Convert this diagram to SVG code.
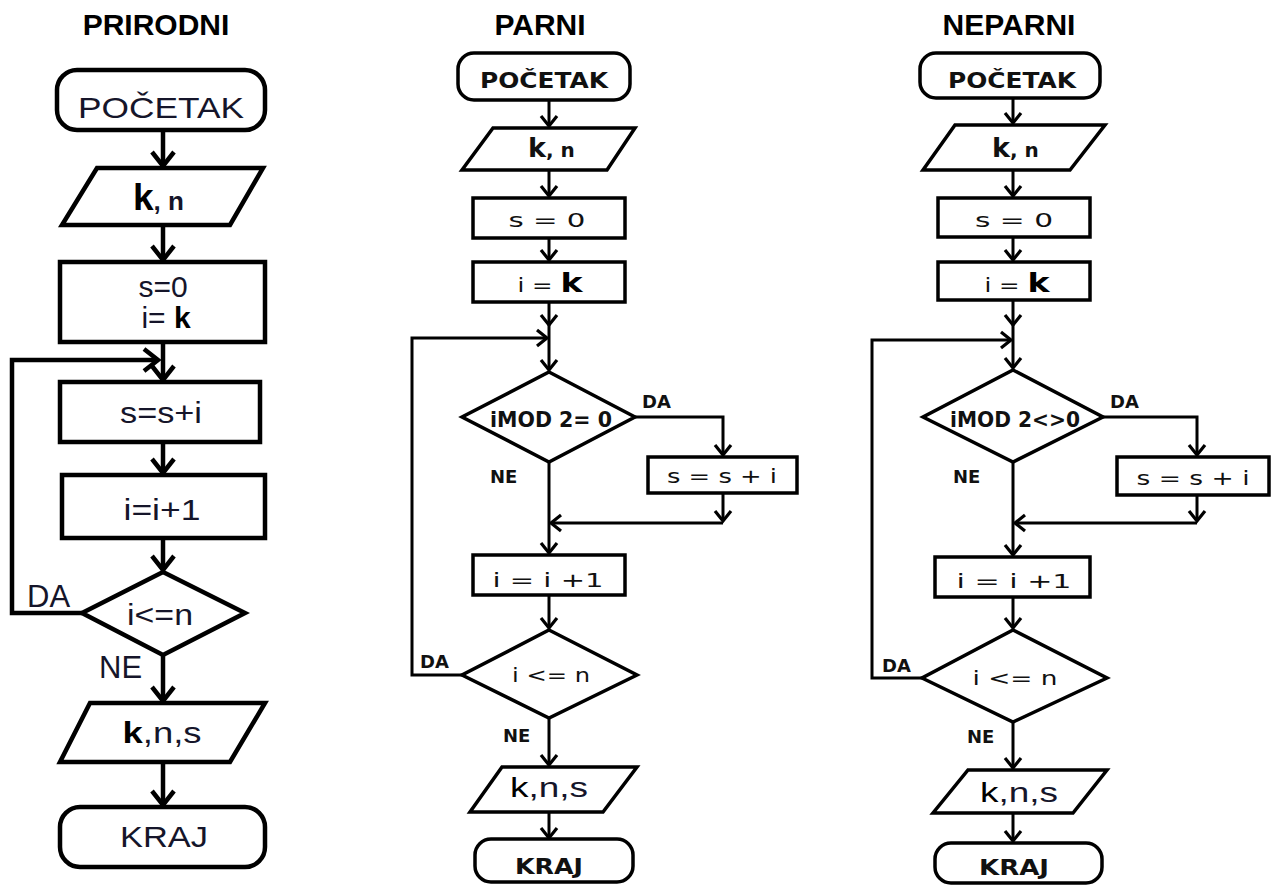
<svg xmlns="http://www.w3.org/2000/svg" width="1272" height="885" viewBox="0 0 1272 885">
<style>
.bg{fill:#fff}
.title{font-family:"Liberation Sans",Arial,sans-serif;font-weight:bold;font-size:30px;fill:#000;text-anchor:middle}
.nL{fill:#fff;stroke:#000;stroke-width:4.5}
.nS{fill:#fff;stroke:#000;stroke-width:3.5}
.cL{fill:none;stroke:#000;stroke-width:4.5}
.cS{fill:none;stroke:#000;stroke-width:3}
.tL{font-family:"Liberation Sans",Arial,sans-serif;font-size:30px;fill:#15152a;text-anchor:middle}
.lL{font-family:"Liberation Sans",Arial,sans-serif;font-size:31px;fill:#15152a}
.tS{font-family:"DejaVu Sans",sans-serif;font-size:20px;fill:#111;text-anchor:middle}
.tB{font-family:"DejaVu Sans",sans-serif;font-weight:bold;font-size:21px;fill:#111;text-anchor:middle}
.lS{font-family:"DejaVu Sans",sans-serif;font-weight:bold;font-size:18px;fill:#111}
.tA{font-family:"Liberation Sans",Arial,sans-serif;font-size:28px;fill:#15152a;text-anchor:middle}
.b{font-weight:bold;fill:#000}
</style>
<defs>
<marker id="aL" viewBox="-17 -14 20 28" markerWidth="20" markerHeight="28" refX="0" refY="0" orient="auto" markerUnits="userSpaceOnUse">
<path d="M-14,-11 L0,0 L-14,11" fill="none" stroke="#000" stroke-width="4.5"/>
</marker>
<marker id="aS" viewBox="-13 -11 16 22" markerWidth="16" markerHeight="22" refX="0" refY="0" orient="auto" markerUnits="userSpaceOnUse">
<path d="M-10,-8 L0,0 L-10,8" fill="none" stroke="#000" stroke-width="3.2"/>
</marker>
</defs>
<rect class="bg" x="0" y="0" width="1272" height="885"/>

<text class="title" x="156" y="35">PRIRODNI</text>
<text class="title" x="540" y="35">PARNI</text>
<text class="title" x="1009" y="35">NEPARNI</text>

<g id="connectors">
<!-- left -->
<path class="cL" d="M163,130 V166" marker-end="url(#aL)"/>
<path class="cL" d="M163,225 V260" marker-end="url(#aL)"/>
<path class="cL" d="M163,342 V380" marker-end="url(#aL)"/>
<path class="cL" d="M82,613 H12 V360 H158" marker-end="url(#aL)"/>
<path class="cL" d="M163,442 V473" marker-end="url(#aL)"/>
<path class="cL" d="M163,538 V570" marker-end="url(#aL)"/>
<path class="cL" d="M163,655 V701" marker-end="url(#aL)"/>
<path class="cL" d="M163,762 V805" marker-end="url(#aL)"/>
<!-- middle -->
<path class="cS" d="M549,100 V126" marker-end="url(#aS)"/>
<path class="cS" d="M549,170 V196" marker-end="url(#aS)"/>
<path class="cS" d="M549,238 V260" marker-end="url(#aS)"/>
<path class="cS" d="M549,302 V325" marker-end="url(#aS)"/>
<path class="cS" d="M549,325 V370" marker-end="url(#aS)"/>
<path class="cS" d="M462,675 H412 V338 H547" marker-end="url(#aS)"/>
<path class="cS" d="M635,417 H723 V455" marker-end="url(#aS)"/>
<path class="cS" d="M723,493 V521" marker-end="url(#aS)"/>
<path class="cS" d="M723,523 H551" marker-end="url(#aS)"/>
<path class="cS" d="M549,462 V553" marker-end="url(#aS)"/>
<path class="cS" d="M549,595 V628" marker-end="url(#aS)"/>
<path class="cS" d="M549,718 V765" marker-end="url(#aS)"/>
<path class="cS" d="M549,812 V838" marker-end="url(#aS)"/>
<!-- right -->
<path class="cS" d="M1013,98 V123" marker-end="url(#aS)"/>
<path class="cS" d="M1013,170 V196" marker-end="url(#aS)"/>
<path class="cS" d="M1013,237 V260" marker-end="url(#aS)"/>
<path class="cS" d="M1013,300 V325" marker-end="url(#aS)"/>
<path class="cS" d="M1013,325 V368" marker-end="url(#aS)"/>
<path class="cS" d="M922,678 H872 V340 H1011" marker-end="url(#aS)"/>
<path class="cS" d="M1103,417 H1197 V455" marker-end="url(#aS)"/>
<path class="cS" d="M1197,495 V521" marker-end="url(#aS)"/>
<path class="cS" d="M1197,523 H1015" marker-end="url(#aS)"/>
<path class="cS" d="M1013,462 V555" marker-end="url(#aS)"/>
<path class="cS" d="M1013,597 V628" marker-end="url(#aS)"/>
<path class="cS" d="M1013,722 V768" marker-end="url(#aS)"/>
<path class="cS" d="M1013,813 V841" marker-end="url(#aS)"/>
</g>

<!-- LEFT: PRIRODNI -->
<g id="p-start">
<rect class="nL" x="57" y="70" width="208" height="60" rx="20"/>
<text class="tL" x="161" y="118" font-size="34" textLength="166" lengthAdjust="spacingAndGlyphs">POČETAK</text>
</g>
<g id="p-input">
<polygon class="nL" points="97,168 263,168 230,225 62,225"/>
<text class="tL" x="133" y="210" style="text-anchor:start"><tspan class="b" font-size="37">k</tspan><tspan font-size="26" font-weight="bold">, n</tspan></text>
</g>
<g id="p-init">
<rect class="nL" x="60" y="262" width="205" height="80"/>
<text class="tL" x="163" y="297" font-size="29">s=0</text>
<text class="tL" x="166" y="328" font-size="29">i= <tspan class="b">k</tspan></text>
</g>
<g id="p-sum">
<rect class="nL" x="60" y="382" width="200" height="60"/>
<text class="tL" x="161" y="423" textLength="82" lengthAdjust="spacingAndGlyphs">s=s+i</text>
</g>
<g id="p-inc">
<rect class="nL" x="62" y="475" width="203" height="63"/>
<text class="tL" x="162" y="520" textLength="77" lengthAdjust="spacingAndGlyphs">i=i+1</text>
</g>
<g id="p-cond">
<polygon class="nL" points="163,572 245,613 163,655 82,613"/>
<text class="tL" x="160" y="625" textLength="66" lengthAdjust="spacingAndGlyphs">i&lt;=n</text>
</g>
<text class="lL" x="27" y="607">DA</text>
<text class="lL" x="99" y="678">NE</text>
<g id="p-output">
<polygon class="nL" points="90,703 265,703 230,762 60,762"/>
<text class="tL" x="162" y="743" textLength="79" lengthAdjust="spacingAndGlyphs"><tspan class="b">k</tspan>,n,s</text>
</g>
<g id="p-end">
<rect class="nL" x="60" y="807" width="205" height="60" rx="20"/>
<text class="tL" x="164" y="847" font-size="34" textLength="88" lengthAdjust="spacingAndGlyphs">KRAJ</text>
</g>

<!-- MIDDLE: PARNI -->
<g id="e-start">
<rect class="nS" x="458" y="53" width="172" height="47" rx="16"/>
<text class="tB" x="544" y="88" textLength="128" lengthAdjust="spacingAndGlyphs">POČETAK</text>
</g>
<g id="e-input">
<polygon class="nS" points="493,128 635,128 607,170 462,170"/>
<text class="tB" x="528" y="157" style="text-anchor:start"><tspan font-size="27">k</tspan><tspan font-size="20">, n</tspan></text>
</g>
<g id="e-s0">
<rect class="nS" x="473" y="198" width="152" height="40"/>
<text class="tS" x="547" y="227" textLength="77" lengthAdjust="spacingAndGlyphs">s = 0</text>
</g>
<g id="e-ik">
<rect class="nS" x="473" y="262" width="152" height="40"/>
<text class="tS" x="550" y="292" font-size="22" textLength="65" lengthAdjust="spacingAndGlyphs">i = <tspan class="b" font-size="27">k</tspan></text>
</g>
<g id="e-cond">
<polygon class="nS" points="549,372 635,417 549,462 462,417"/>
<text class="tB" x="551" y="427" font-size="19" textLength="122" lengthAdjust="spacingAndGlyphs">iMOD 2= 0</text>
</g>
<text class="lS" x="642" y="408">DA</text>
<text class="lS" x="490" y="483" font-weight="normal">NE</text>
<g id="e-sum">
<rect class="nS" x="648" y="457" width="149" height="36"/>
<text class="tS" x="722" y="483" textLength="110" lengthAdjust="spacingAndGlyphs">s = s + i</text>
</g>
<g id="e-inc">
<rect class="nS" x="473" y="555" width="152" height="40"/>
<text class="tS" x="548" y="587" font-size="22" textLength="111" lengthAdjust="spacingAndGlyphs">i =  i +1</text>
</g>
<g id="e-cond2">
<polygon class="nS" points="549,630 637,675 549,718 462,675"/>
<text class="tS" x="551" y="682" font-size="22" textLength="78" lengthAdjust="spacingAndGlyphs">i &lt;= n</text>
</g>
<text class="lS" x="420" y="668">DA</text>
<text class="lS" x="503" y="742" font-weight="normal">NE</text>
<g id="e-output">
<polygon class="nS" points="502,767 637,767 603,812 470,812"/>
<text class="tA" x="549" y="797" textLength="78" lengthAdjust="spacingAndGlyphs"><tspan fill="#000">k</tspan>,n,s</text>
</g>
<g id="e-end">
<rect class="nS" x="475" y="839" width="158" height="43" rx="16"/>
<text class="tB" x="549" y="874" textLength="68" lengthAdjust="spacingAndGlyphs">KRAJ</text>
</g>

<!-- RIGHT: NEPARNI -->
<g id="o-start">
<rect class="nS" x="920" y="53" width="180" height="45" rx="16"/>
<text class="tB" x="1012" y="88" textLength="128" lengthAdjust="spacingAndGlyphs">POČETAK</text>
</g>
<g id="o-input">
<polygon class="nS" points="955,125 1105,125 1070,170 923,170"/>
<text class="tB" x="992" y="157" style="text-anchor:start"><tspan font-size="27">k</tspan><tspan font-size="20">, n</tspan></text>
</g>
<g id="o-s0">
<rect class="nS" x="938" y="198" width="152" height="39"/>
<text class="tS" x="1014" y="227" textLength="78" lengthAdjust="spacingAndGlyphs">s = 0</text>
</g>
<g id="o-ik">
<rect class="nS" x="938" y="262" width="152" height="38"/>
<text class="tS" x="1017" y="292" font-size="22" textLength="65" lengthAdjust="spacingAndGlyphs">i = <tspan class="b" font-size="27">k</tspan></text>
</g>
<g id="o-cond">
<polygon class="nS" points="1013,370 1103,417 1013,462 923,417"/>
<text class="tB" x="1015" y="427" font-size="19" textLength="130" lengthAdjust="spacingAndGlyphs">iMOD 2&lt;&gt;0</text>
</g>
<text class="lS" x="1110" y="408">DA</text>
<text class="lS" x="953" y="483" font-weight="normal">NE</text>
<g id="o-sum">
<rect class="nS" x="1117" y="457" width="152" height="38"/>
<text class="tS" x="1193" y="485" textLength="113" lengthAdjust="spacingAndGlyphs">s = s + i</text>
</g>
<g id="o-inc">
<rect class="nS" x="935" y="557" width="155" height="40"/>
<text class="tS" x="1014" y="588" font-size="22" textLength="115" lengthAdjust="spacingAndGlyphs">i =  i +1</text>
</g>
<g id="o-cond2">
<polygon class="nS" points="1013,630 1107,678 1013,722 922,678"/>
<text class="tS" x="1015" y="685" font-size="22" textLength="85" lengthAdjust="spacingAndGlyphs">i &lt;= n</text>
</g>
<text class="lS" x="882" y="672">DA</text>
<text class="lS" x="967" y="743" font-weight="normal">NE</text>
<g id="o-output">
<polygon class="nS" points="968,770 1107,770 1073,813 933,813"/>
<text class="tA" x="1019" y="802" textLength="78" lengthAdjust="spacingAndGlyphs"><tspan fill="#000">k</tspan>,n,s</text>
</g>
<g id="o-end">
<rect class="nS" x="935" y="843" width="167" height="40" rx="16"/>
<text class="tB" x="1014" y="875" textLength="70" lengthAdjust="spacingAndGlyphs">KRAJ</text>
</g>
</svg>
